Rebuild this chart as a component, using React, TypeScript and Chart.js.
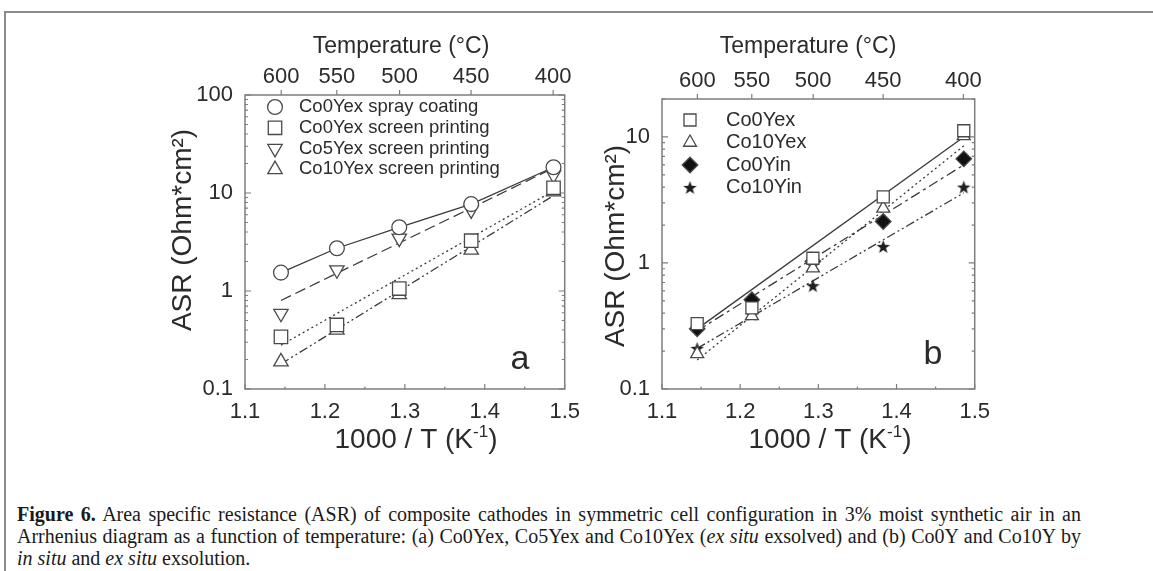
import React, { useEffect, useRef } from 'react';
import { Chart, registerables } from 'chart.js';
import { drawPoint } from 'chart.js/helpers';

Chart.register(...registerables);

// ---------- data ----------
const temperatureTicks = [600, 550, 500, 450, 400];
const inverseT = [1.145, 1.215, 1.293, 1.383, 1.486];
const fitX = [1.145, 1.486];
const xTicks = [1.1, 1.2, 1.3, 1.4, 1.5];
const xMinorTicks = [1.15, 1.25, 1.35, 1.45];

// panel a
const aSprayCo0Yex = [1.54, 2.73, 4.47, 7.7, 18.3];
const aScreenCo0Yex = [0.34, 0.45, 1.06, 3.26, 11.3];
const aScreenCo5Yex = [0.59, 1.64, 3.45, 6.7, 15.3];
const aScreenCo10Yex = [0.19, 0.4, 0.92, 2.62, 10.3];
const aFitCo0Yex = [0.28, 10.5];
const aFitCo5Yex = [0.8, 18];
const aFitCo10Yex = [0.18, 9.4];
const aYTicks = [0.1, 1, 10, 100];

// panel b
const bCo0Yex = [0.33, 0.44, 1.09, 3.35, 11.2];
const bCo10Yex = [0.19, 0.38, 0.91, 2.71, 10.2];
const bCo0Yin = [0.3, 0.51, 1.03, 2.13, 6.7];
const bCo10Yin = [0.21, 0.39, 0.66, 1.35, 4.0];
const bFitCo0Yex = [0.3, 10.0];
const bFitCo10Yex = [0.17, 8.5];
const bFitCo0Yin = [0.29, 6.0];
const bFitCo10Yin = [0.21, 3.6];
const bYTicks = [0.1, 1, 10];

// ---------- styling ----------
const SANS = '"Liberation Sans", Arial, sans-serif';
const TEXT = '#2b2b2b';
const FRAME = '#7d7d7d';
const LINE = '#3a3a3a';
const MARK = '#4a4a4a';

let starImg: HTMLCanvasElement | null = null;
function getStar(): HTMLCanvasElement {
  if (starImg) return starImg;
  const c = document.createElement('canvas');
  const s = 15;
  c.width = s;
  c.height = s;
  const g = c.getContext('2d')!;
  g.fillStyle = '#1e1e1e';
  g.beginPath();
  const cx = s / 2, cy = s / 2 + 0.7, R = 7.1, r = 2.9;
  for (let i = 0; i < 10; i++) {
    const ang = -Math.PI / 2 + (i * Math.PI) / 5;
    const rad = i % 2 === 0 ? R : r;
    const px = cx + Math.cos(ang) * rad;
    const py = cy + Math.sin(ang) * rad;
    if (i === 0) g.moveTo(px, py);
    else g.lineTo(px, py);
  }
  g.closePath();
  g.fill();
  starImg = c;
  return c;
}

type Marker = {
  label: string;
  values: number[];
  style: any;
  radius: number;
  rotation?: number;
  fill: string;
};
type Fit = { x: number[]; y: number[]; dash: number[] };
type Txt = { text: string; x: number; y: number; size: number; rotate?: boolean; sup?: [string, string, string] };

type Panel = {
  box: { left: number; top: number; width: number; height: number };
  leftW: number;
  topH: number;
  bottomH: number;
  padRight: number;
  yMax: number;
  yTicks: number[];
  markers: Marker[];
  fits: Fit[];
  legend: { x: number; textX: number; y0: number; dy: number; size: number };
  texts: Txt[];
};

const panelA: Panel = {
  box: { left: 130, top: 15, width: 460, height: 460 },
  leftW: 115,
  topH: 80,
  bottomH: 86,
  padRight: 25,
  yMax: 100,
  yTicks: aYTicks,
  markers: [
    { label: 'Co0Yex spray coating', values: aSprayCo0Yex, style: 'circle', radius: 7.4, fill: '#fff' },
    { label: 'Co0Yex screen printing', values: aScreenCo0Yex, style: 'rect', radius: 9.5, fill: '#fff' },
    { label: 'Co5Yex screen printing', values: aScreenCo5Yex, style: 'triangle', radius: 8.3, rotation: 180, fill: '#fff' },
    { label: 'Co10Yex screen printing', values: aScreenCo10Yex, style: 'triangle', radius: 8.3, fill: '#fff' },
  ],
  fits: [
    { x: inverseT, y: aSprayCo0Yex, dash: [] },
    { x: fitX, y: aFitCo0Yex, dash: [2, 3] },
    { x: fitX, y: aFitCo5Yex, dash: [11, 5] },
    { x: fitX, y: aFitCo10Yex, dash: [9, 3, 2, 3, 2, 3] },
  ],
  legend: { x: 275, textX: 299, y0: 107, dy: 20.8, size: 18.5 },
  texts: [
    { text: 'Temperature (°C)', x: 401, y: 47, size: 23 },
    { text: 'ASR (Ohm*cm²)', x: 183, y: 230, size: 28, rotate: true },
    { text: '', x: 416, y: 440, size: 28, sup: ['1000 / T (K', '-1', ')'] },
    { text: 'a', x: 520, y: 360, size: 34 },
  ],
};

const panelB: Panel = {
  box: { left: 560, top: 15, width: 440, height: 460 },
  leftW: 102,
  topH: 84,
  bottomH: 86,
  padRight: 24,
  yMax: 20,
  yTicks: bYTicks,
  markers: [
    { label: 'Co0Yex', values: bCo0Yex, style: 'rect', radius: 8.5, fill: '#fff' },
    { label: 'Co10Yex', values: bCo10Yex, style: 'triangle', radius: 7.5, fill: '#fff' },
    { label: 'Co0Yin', values: bCo0Yin, style: 'rectRot', radius: 7.8, fill: '#111' },
    { label: 'Co10Yin', values: bCo10Yin, style: 'star', radius: 7, fill: '#111' },
  ],
  fits: [
    { x: fitX, y: bFitCo0Yex, dash: [] },
    { x: fitX, y: bFitCo10Yex, dash: [2, 3] },
    { x: fitX, y: bFitCo0Yin, dash: [10, 4, 3, 4] },
    { x: fitX, y: bFitCo10Yin, dash: [9, 3, 2, 3, 2, 3] },
  ],
  legend: { x: 690, textX: 726, y0: 120, dy: 22.5, size: 20 },
  texts: [
    { text: 'Temperature (°C)', x: 808, y: 47, size: 23 },
    { text: 'ASR (Ohm*cm²)', x: 616, y: 246, size: 28, rotate: true },
    { text: '', x: 830, y: 440, size: 28, sup: ['1000 / T (K', '-1', ')'] },
    { text: 'b', x: 933, y: 355, size: 34 },
  ],
};

function pointStyleOf(m: Marker) {
  return m.style === 'star' ? getStar() : m.style;
}

const decorPlugin = {
  id: 'decor',
  beforeDatasetsDraw(chart: any, _a: any, opts: any) {
    const { ctx, chartArea: ca, scales } = chart;
    const panel: Panel = opts.panel;
    ctx.save();
    ctx.strokeStyle = FRAME;
    ctx.lineWidth = 1.5;
    ctx.strokeRect(ca.left, ca.top, ca.right - ca.left, ca.bottom - ca.top);
    ctx.lineWidth = 1.2;
    ctx.beginPath();
    // bottom axis ticks (inward)
    xTicks.forEach((v) => {
      const p = scales.x.getPixelForValue(v);
      ctx.moveTo(p, ca.bottom);
      ctx.lineTo(p, ca.bottom - 5);
    });
    xMinorTicks.forEach((v) => {
      const p = scales.x.getPixelForValue(v);
      ctx.moveTo(p, ca.bottom);
      ctx.lineTo(p, ca.bottom - 2.5);
    });
    // top axis temperature ticks (outward)
    temperatureTicks.forEach((t) => {
      const p = scales.xTop.getPixelForValue(1000 / (t + 273.15));
      ctx.moveTo(p, ca.top);
      ctx.lineTo(p, ca.top - 5);
    });
    // y log ticks, both sides inward
    for (let d = 0.1; d < panel.yMax * 1.001; d *= 10) {
      for (let k = 1; k <= 9; k++) {
        const v = d * k;
        if (v > panel.yMax * 1.0001) break;
        const p = scales.y.getPixelForValue(v);
        const len = k === 1 ? 6 : 3;
        ctx.moveTo(ca.left, p);
        ctx.lineTo(ca.left + len, p);
        ctx.moveTo(ca.right, p);
        ctx.lineTo(ca.right - len, p);
      }
    }
    ctx.stroke();
    ctx.restore();
  },
  afterDraw(chart: any, _a: any, opts: any) {
    const { ctx } = chart;
    const panel: Panel = opts.panel;
    const ox = panel.box.left;
    const oy = panel.box.top;
    ctx.save();
    // legend
    const lg = panel.legend;
    panel.markers.forEach((m, i) => {
      const y = lg.y0 + i * lg.dy - oy;
      ctx.fillStyle = m.fill;
      ctx.strokeStyle = MARK;
      ctx.lineWidth = 1.3;
      drawPoint(ctx, { pointStyle: pointStyleOf(m), radius: m.radius, rotation: m.rotation || 0, borderWidth: 1.3 } as any, lg.x - ox, y);
      ctx.fillStyle = TEXT;
      ctx.font = `${lg.size}px ${SANS}`;
      ctx.textAlign = 'left';
      ctx.textBaseline = 'middle';
      ctx.fillText(m.label, lg.textX - ox, y);
    });
    // texts
    panel.texts.forEach((t) => {
      ctx.save();
      ctx.fillStyle = TEXT;
      ctx.textBaseline = 'middle';
      ctx.translate(t.x - ox, t.y - oy);
      if (t.rotate) ctx.rotate(-Math.PI / 2);
      if (t.sup) {
        const big = `${t.size}px ${SANS}`;
        const small = `${Math.round(t.size * 0.6)}px ${SANS}`;
        ctx.font = big;
        const w1 = ctx.measureText(t.sup[0]).width;
        const w3 = ctx.measureText(t.sup[2]).width;
        ctx.font = small;
        const w2 = ctx.measureText(t.sup[1]).width;
        let x = -(w1 + w2 + w3) / 2;
        ctx.textAlign = 'left';
        ctx.font = big;
        ctx.fillText(t.sup[0], x, 0);
        x += w1;
        ctx.font = small;
        ctx.fillText(t.sup[1], x, -t.size * 0.28);
        x += w2;
        ctx.font = big;
        ctx.fillText(t.sup[2], x, 0);
      } else {
        ctx.textAlign = 'center';
        ctx.font = `${t.size}px ${SANS}`;
        ctx.fillText(t.text, 0, 0);
      }
      ctx.restore();
    });
    ctx.restore();
  },
};

function buildConfig(panel: Panel): any {
  const tickFont = { family: SANS, size: 22 };
  const markerSets = panel.markers.map((m) => ({
    label: m.label,
    data: inverseT.map((x, i) => ({ x, y: m.values[i] })),
    showLine: false,
    pointStyle: pointStyleOf(m),
    pointRadius: m.radius,
    pointRotation: m.rotation || 0,
    pointBackgroundColor: m.fill,
    pointBorderColor: MARK,
    pointBorderWidth: 1.3,
    order: 0,
  }));
  const fitSets = panel.fits.map((f) => ({
    label: 'fit',
    data: f.x.map((x, i) => ({ x, y: f.y[i] })),
    showLine: true,
    borderColor: LINE,
    borderWidth: 1.3,
    borderDash: f.dash,
    pointRadius: 0,
    tension: 0,
    order: 1,
  }));
  return {
    type: 'scatter',
    data: { datasets: [...markerSets, ...fitSets] },
    options: {
      animation: false,
      responsive: false,
      devicePixelRatio: 1,
      layout: { padding: { top: 0, right: panel.padRight, bottom: 0, left: 0 } },
      plugins: {
        legend: { display: false },
        tooltip: { enabled: false },
        decor: { panel },
      },
      scales: {
        x: {
          type: 'linear',
          position: 'bottom',
          min: 1.1,
          max: 1.5,
          afterBuildTicks: (s: any) => {
            s.ticks = xTicks.map((v) => ({ value: v }));
          },
          afterFit: (s: any) => {
            s.height = panel.bottomH;
          },
          ticks: {
            callback: (v: any) => Number(v).toFixed(1),
            font: tickFont,
            color: TEXT,
            padding: 10,
            maxRotation: 0,
            autoSkip: false,
          },
          grid: { display: false, drawTicks: false },
          border: { display: false },
        },
        xTop: {
          type: 'linear',
          position: 'top',
          min: 1.1,
          max: 1.5,
          afterBuildTicks: (s: any) => {
            s.ticks = temperatureTicks.map((t) => ({ value: 1000 / (t + 273.15) }));
          },
          afterFit: (s: any) => {
            s.height = panel.topH;
          },
          ticks: {
            callback: (v: any) => String(Math.round(1000 / Number(v) - 273.15)),
            font: tickFont,
            color: TEXT,
            padding: 5,
            maxRotation: 0,
            autoSkip: false,
          },
          grid: { display: false, drawTicks: false },
          border: { display: false },
        },
        y: {
          type: 'logarithmic',
          min: 0.1,
          max: panel.yMax,
          afterBuildTicks: (s: any) => {
            s.ticks = panel.yTicks.map((v) => ({ value: v }));
          },
          afterFit: (s: any) => {
            s.width = panel.leftW;
          },
          ticks: {
            callback: (v: any) => String(v),
            font: tickFont,
            color: TEXT,
            padding: 12,
            autoSkip: false,
          },
          grid: { display: false, drawTicks: false },
          border: { display: false },
        },
      },
    },
    plugins: [decorPlugin],
  };
}

function PanelChart({ panel }: { panel: Panel }) {
  const ref = useRef<HTMLCanvasElement>(null);
  useEffect(() => {
    const chart = new Chart(ref.current!, buildConfig(panel));
    return () => chart.destroy();
  }, [panel]);
  const { left, top, width, height } = panel.box;
  return (
    <div style={{ position: 'absolute', left, top, width, height }}>
      <canvas ref={ref} width={width} height={height} style={{ width, height, display: 'block' }} />
    </div>
  );
}

const justified: React.CSSProperties = {
  width: 1064,
  textAlign: 'justify',
  textAlignLast: 'justify' as any,
  whiteSpace: 'normal',
};

export default function App() {
  return (
    <div
      style={{
        position: 'fixed',
        left: 0,
        top: 0,
        width: 1153,
        height: 571,
        background: '#fff',
        overflow: 'hidden',
      }}
    >
      <div
        style={{
          position: 'absolute',
          left: 4,
          top: 11,
          width: 1200,
          height: 600,
          borderTop: '2px solid #8a8a8a',
          borderLeft: '2px solid #8a8a8a',
        }}
      />
      <PanelChart panel={panelA} />
      <PanelChart panel={panelB} />
      <div
        style={{
          position: 'absolute',
          left: 17,
          top: 503,
          fontFamily: '"Liberation Serif", "Times New Roman", serif',
          fontSize: 20,
          lineHeight: '22px',
          color: '#1a1a1a',
          whiteSpace: 'nowrap',
        }}
      >
        <div style={justified}>
          <b>Figure 6.</b> Area specific resistance (ASR) of composite cathodes in symmetric cell configuration in 3% moist synthetic air in an
        </div>
        <div style={justified}>
          Arrhenius diagram as a function of temperature: (a) Co0Yex, Co5Yex and Co10Yex (<i>ex situ</i> exsolved) and (b) Co0Y and Co10Y by
        </div>
        <div>
          <i>in situ</i> and <i>ex situ</i> exsolution.
        </div>
      </div>
    </div>
  );
}
